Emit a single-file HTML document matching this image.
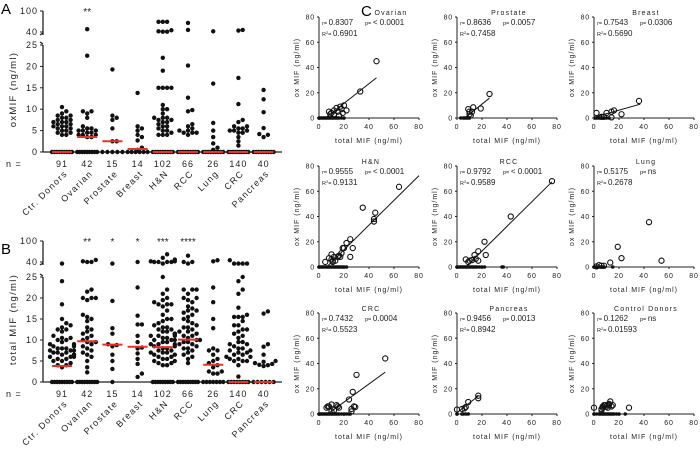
<!DOCTYPE html>
<html><head><meta charset="utf-8"><style>
html,body{margin:0;padding:0;background:#fff;}
svg{display:block;font-family:"Liberation Sans",Arial,sans-serif;}
</style></head><body>
<svg id="fig" width="700" height="457" viewBox="0 0 700 457" xmlns="http://www.w3.org/2000/svg">
<text x="1" y="14" font-size="15">A</text>
<text x="1" y="254" font-size="15">B</text>
<text x="361" y="16" font-size="15">C</text>
</svg>
<script>
const categories=["Ctr. Donors","Ovarian","Prostate","Breast","H&N","RCC","Lung","CRC","Pancreas"];
const nCounts=[91,42,15,14,102,66,26,140,40];
const oxValues=[
[10.5,9.5,9,8.5,8.5,8,8,7.5,7.5,7,7,7,6.5,6.5,6,6,6,5.5,5.5,5,5,4.5,4.5,4,4],
[48,22.5,9.5,9.5,9,8,6,5.5,5.5,5,5,5,4.5,4.5,4,4,4,3.5,3.5],
[19.3,8.5,8,7.5,5.5,2.5,2.5],
[13.8,6,5.5,5,4,3.5,2.7,1,0.5],
[69,69,69,45,42,41,41,22,19,15,15,15,15,11,10,10,9,8,8,8,7.5,7.5,7,7,6.5,6,6,5.5,5,5,4.5,4,4,4],
[66,46,20.2,12.7,9.8,9.5,6.5,6,5.5,5,5,4.5,4.5,4.5,4],
[42,16,6.8,5,3.5,2,1,0.5],
[46,44,17.3,11.2,7.5,7,6,6,5.5,5.5,5,5,5,4.5,4.5,3.5,2.5,1.5],
[14.5,12.3,9.3,5.6,4.2,4,3.5]];
const oxZeros=[9,9,5,6,9,9,9,10,9];
const oxMedians=[0,3.5,2.5,0.7,0,0,0,0,0];
const oxStars=["","**","","","","","","",""];
const totValues=[
[38,24,18.5,15,14,13.5,13,12.5,12.5,12,11,10.5,10.5,10,10,9.5,9,9,8.5,8.5,8,8,8,7.5,7.5,7.5,7,7,7,6.5,6.5,6.5,6,6,6,5.5,5.5,5,5,4.5,4,4,3.5],
[46,42,40,40,22,21.5,20,20,20,19.5,16,15.5,15,14.5,13,12.5,12,11.5,11,10.5,10,9.5,9.5,9,8.5,8,7.5,7,6.5,6,5,3.5,2.3],
[38,19.3,12.8,11.5,9,8.5,8.8,6.5,5,3.1],
[40,22.5,15.8,13.7,13.7,11,9.5,8.2,8,6.8,5.5,4.3,2,1.2],
[62,52,47,42,42,40,40,40,40,38,25,22,21,20,19.5,19,18.5,18.5,18.5,18,17,16,15,15,14.5,14,13.5,13,13,12.5,12.5,12,12,11.5,11.5,11,11,11,10.5,10.5,10,10,10,9.5,9.5,9,9,9,8.5,8.5,8,8,7.5,7.5,7,7,7,6.5,6.5,6,6,5.5,5.5,5,5,4.5,4.5,4,4],
[58,40,40,38,22,22,22,21,20,20,19.5,19,18,17.5,17,17,16.5,16,15.5,15,14.5,14,13.5,13,13,12.5,12,12,11.5,11,11,10.5,10,10,9.5,9.5,9,9,8.5,8,8,7.5,7,6.5,6,5.5,4.5],
[45,42,22.5,19,15,12.8,8,7.5,7.5,6.5,5.5,5,4.5,4,3.5,2.5,2.5,2,2],
[45,38,38,38,38,25,24,22,21,17.7,16,15.5,15.5,15.5,14.5,13.5,13.5,12.5,12.5,12,11.5,11,10.5,9.5,9.5,9,9,8.5,8,8,7.5,7.5,7,7,6.5,6.5,6,6,5.5,5.5,5,5,5,4,1.3],
[16.8,16.3,9,8.4,6.5,5,4.8,4.5,4.3,4.1,4,3.8]];
const totZeros=[9,9,1,0,9,9,7,8,6];
const totMedians=[3.8,9.7,8.9,8.4,8.3,10.1,4.1,0,0];
const totStars=["","**","*","*","***","****","","",""];

const scTitles=["Ovarian","Prostate","Breast","H&N","RCC","Lung","CRC","Pancreas","Control Donors"];
const scR=["0.8307","0.8636","0.7543","0.9555","0.9792","0.5175","0.7432","0.9456","0.1262"];
const scP=["< 0.0001","0.0057","0.0306","< 0.0001","< 0.0001","ns","0.0004","0.0013","ns"];
const scR2=["0.6901","0.7458","0.5690","0.9131","0.9589","0.2678","0.5523","0.8942","0.01593"];
const scPoints=[
[[46,45],[33,21],[8,5],[10,4],[12,6],[14,8],[15,5],[17,9],[18,7],[20,10],[22,6],[12,3],[9,3],[16,2],[19,4]],
[[26,19],[19,7.5],[13,8.5],[12,5],[9,7],[10,5],[10,3],[11,2]],
[[36,13.5],[22,3],[16,6],[14,5],[10,4],[8,1],[2,4],[14,0.5],[6,1]],
[[64,63.5],[35,47],[45,43],[44,38],[44,36],[27,15],[25,8],[25,22],[22,19],[20,15],[18,11],[19,15],[15,8],[16,9],[12,8],[10,10],[8,7],[5,4],[11,5],[10,6],[13,5],[17,8],[11,4]],
[[76,68],[43,40],[22,20],[23,9.5],[17,12.5],[14,9.5],[12,5.5],[15,6.5],[17,5],[7,6],[9,4],[10,5]],
[[44,35.5],[19,16],[22,7],[54,5],[13,3.5],[4,1.5],[6,1],[8,1],[2,0.5]],
[[53,44],[30,31],[27,17.5],[24,11.5],[28,6],[29,5.5],[26,4],[26,2],[10,7.5],[7,6],[6,5],[8,6],[14,7],[15,6],[16,5],[12,3],[10,2]],
[[17,14.5],[17,12.5],[9,9.5],[7,5.5],[6,4.5],[4,4],[0,3.5]],
[[28,5],[0,5],[6,4],[7,6],[8,7],[9,7],[10,6],[12,8],[13,10],[14,6],[11,5],[7,5],[12,7],[15,7],[6,3]]];
const scZeros=[
[0,1,2,3,4,5,6,7,8,9,10,11,12,13,14,15,16,18,20],
[3,5,6,7,8,9,10],
[1,2,3,4,5,6,7,8,10,12],
[0,1,2,3,4,5,6,7,8,9,10,11,12,13,14,15,16,17,18,19,20,22],
[0,1,2,3,4,5,6,7,8,9,10,11,12,13,14,15,16,18,20,22,36,37],
[0,1,2,3,4,5,6,7,8,15],
[0,1,2,3,4,5,6,7,8,9,10,11,12,13,14,15,16,18,20,22,24,25],
[0,4,5,7,9],
[0,2,4,5,6,7,8,9,10,11,12,13,14,15,16,18,20,25]];
const scSlope=[0.78,0.8,0.28,0.98,0.98,null,0.72,0.78,null];
const scIntercept=[-4,-5,0.6,-6,-7,null,-5,1,null];
const scLineRange=[[5,46],[7,26],[2,37],[6,80],[8,76],null,[7,53],[0,17],null];

const NS="http://www.w3.org/2000/svg";
const svg=document.getElementById('fig');
function mk(tag,attrs,parent){const e=document.createElementNS(NS,tag);for(const k in attrs)e.setAttribute(k,attrs[k]);(parent||svg).appendChild(e);return e;}
function txt(s,attrs,parent){const e=mk('text',attrs,parent);e.textContent=s;return e;}

function dotPlot(cfg){
  const g=mk('g',{});
  
  
  const y0=cfg.y0,y25=cfg.y25,y40=cfg.y40,y100=cfg.y100,ax=43,x0=62,dx=25.2;
  const yScale=v=>{if(v<=25)return y0-(y0-y25)*v/25; if(v<40)return (y25-3)-(v-25)/15*((y25-3)-y40); return y40-(v-40)/60*(y40-y100);};
  const xScale=i=>x0+i*dx;
  const ya=mk('path',{d:`M${ax} ${y0}V${y25} M${ax} ${y40+3}V${y100} M${ax-3} ${y25-3}l3 2 M${ax-3} ${y40+3}l3 -2`,stroke:'#222','stroke-width':1.3,fill:'none'},g);
  
  const xa=mk('line',{x1:ax,x2:282,y1:y0,y2:y0,stroke:'#222','stroke-width':1.3},g);
  
  [[0,'0'],[5,'5'],[10,'10'],[15,'15'],[20,'20'],[25,'25'],[40,'40'],[100,'100']].forEach(t=>{
    const y=yScale(t[0]);
    mk('line',{x1:ax-3,x2:ax,y1:y,y2:y,stroke:'#222','stroke-width':1},g);
    const tl=txt(t[1],{x:ax-5,y:y+3,'font-size':9,'text-anchor':'end','letter-spacing':'1',fill:'#222'},g);
    
  });
  const yt=txt(cfg.ytitle,{x:0,y:0,'font-size':9.5,'text-anchor':'middle','letter-spacing':'1.3',fill:'#222',transform:`translate(16 ${(y0+y100)/2+8}) rotate(-90)`},g);
  
  const nl=txt('n =',{x:6,y:y0+15,'font-size':9,'letter-spacing':'1',fill:'#222'},g);
  
  categories.forEach((c,i)=>{
    const cx=xScale(i);
    const nt=txt(String(nCounts[i]),{x:cx,y:y0+15,'font-size':9,'text-anchor':'middle','letter-spacing':'1',fill:'#222'},g);
    
    const cl=txt(c,{x:0,y:0,'font-size':9,'text-anchor':'end','letter-spacing':'1.3',fill:'#222',transform:`translate(${cx+6} ${y0+22}) rotate(-45)`},g);
    
    if(cfg.stars[i]){const st=txt(cfg.stars[i],{x:cx,y:y100+4,'font-size':10,'text-anchor':'middle',fill:'#222'},g);
      }
    const nz=cfg.zeros[i];
    for(let k=0;k<nz;k++){const ox=nz>1?-10+20*k/(nz-1):0;
      const d=mk('circle',{cx:cx+ox,cy:y0,r:2.2,fill:'#111'},g);
      }
    const placed=[];
    cfg.values[i].slice().sort((a,b)=>a-b).forEach(v=>{
      const y=yScale(v);let best=0;
      for(let s=0;s<14;s++){const off=(s%2?1:-1)*Math.ceil(s/2)*4.3;
        if(placed.every(p=>Math.hypot(p[0]-off,p[1]-y)>=4.2)){best=off;break;} best=off;}
      best=Math.max(-12,Math.min(12,best));placed.push([best,y]);
      const d=mk('circle',{cx:cx+best,cy:y,r:2.2,fill:'#111'},g);
      
    });
    const m=mk('line',{x1:cx-10,x2:cx+10,y1:yScale(cfg.medians[i]),y2:yScale(cfg.medians[i]),stroke:'#e8322b','stroke-width':2},g);
    
  });
}
dotPlot({name:'oxmif-dot-plot',y0:152,y25:45,y40:32,y100:11,ytitle:'oxMIF (ng/ml)',values:oxValues,zeros:oxZeros,medians:oxMedians,stars:oxStars});
dotPlot({name:'total-mif-dot-plot',y0:382,y25:277,y40:262,y100:241,ytitle:'total MIF (ng/ml)',values:totValues,zeros:totZeros,medians:totMedians,stars:totStars});

const colX=[319,457,594],rowY=[118,267,414];
scTitles.forEach((t,i)=>{
  const ox=colX[i%3],oy=rowY[Math.floor(i/3)];
  const sx=v=>ox+v*100/80, sy=v=>oy-v*101/80;
  const g=mk('g',{});
  
  
  mk('line',{x1:ox,x2:sx(80),y1:oy,y2:oy,stroke:'#222','stroke-width':1},g);
  mk('line',{x1:ox,x2:ox,y1:oy,y2:sy(80),stroke:'#222','stroke-width':1},g);
  [0,20,40,60,80].forEach(v=>{
    mk('line',{x1:sx(v),x2:sx(v),y1:oy,y2:oy+2,stroke:'#222'},g);
    mk('line',{x1:ox-2,x2:ox,y1:sy(v),y2:sy(v),stroke:'#222'},g);
    const a=txt(String(v),{x:sx(v),y:oy+11,'font-size':7,'text-anchor':'middle','letter-spacing':'0.8',fill:'#222'},g);
    
    const b=txt(String(v),{x:ox-4,y:sy(v)+2.5,'font-size':7,'text-anchor':'end','letter-spacing':'0.8',fill:'#222'},g);
    
  });
  const xt=txt('total MIF (ng/ml)',{x:sx(40),y:oy+25,'font-size':7,'text-anchor':'middle','letter-spacing':'1',fill:'#222'},g);
  
  const ytl=txt('ox MIF (ng/ml)',{x:0,y:0,'font-size':7,'text-anchor':'middle','letter-spacing':'1',fill:'#222',transform:`translate(${ox-20} ${sy(40)}) rotate(-90)`},g);
  
  const tx=i===0?ox+72:ox+52;
  const tt=txt(t,{x:tx,y:sy(80)-2,'font-size':7,'text-anchor':'middle','letter-spacing':'1.2',fill:'#222'},g);
  
  const st=txt('',{x:ox+3,y:sy(80)+8,'font-size':8,fill:'#222'},g);
  
  st.innerHTML=`<tspan font-style="italic" font-size="5.5">r</tspan><tspan font-size="5.5">= </tspan>${scR[i]}<tspan x="${ox+46}" font-size="5.5">p= </tspan>${scP[i]}`;
  const s2=txt('',{x:ox+3,y:sy(80)+19,'font-size':8,fill:'#222'},g);
  
  s2.innerHTML=`<tspan font-size="5.5">R</tspan><tspan font-size="4" dy="-2">2</tspan><tspan font-size="5.5" dy="2">= </tspan>${scR2[i]}`;
  if(scSlope[i]!==null){
    const r=scLineRange[i];
    const l=mk('line',{x1:sx(r[0]),y1:sy(scSlope[i]*r[0]+scIntercept[i]),x2:sx(r[1]),y2:sy(scSlope[i]*r[1]+scIntercept[i]),stroke:'#111','stroke-width':1},g);
    
  }
  scZeros[i].forEach(v=>{const d=mk('circle',{cx:sx(v),cy:oy,r:1.8,fill:'#111'},g);
    });
  scPoints[i].forEach(p=>{const d=mk('circle',{cx:sx(p[0]),cy:sy(p[1]),r:2.6,fill:'none',stroke:'#111','stroke-width':1.1},g);
    });
});
</script>
</body></html>
